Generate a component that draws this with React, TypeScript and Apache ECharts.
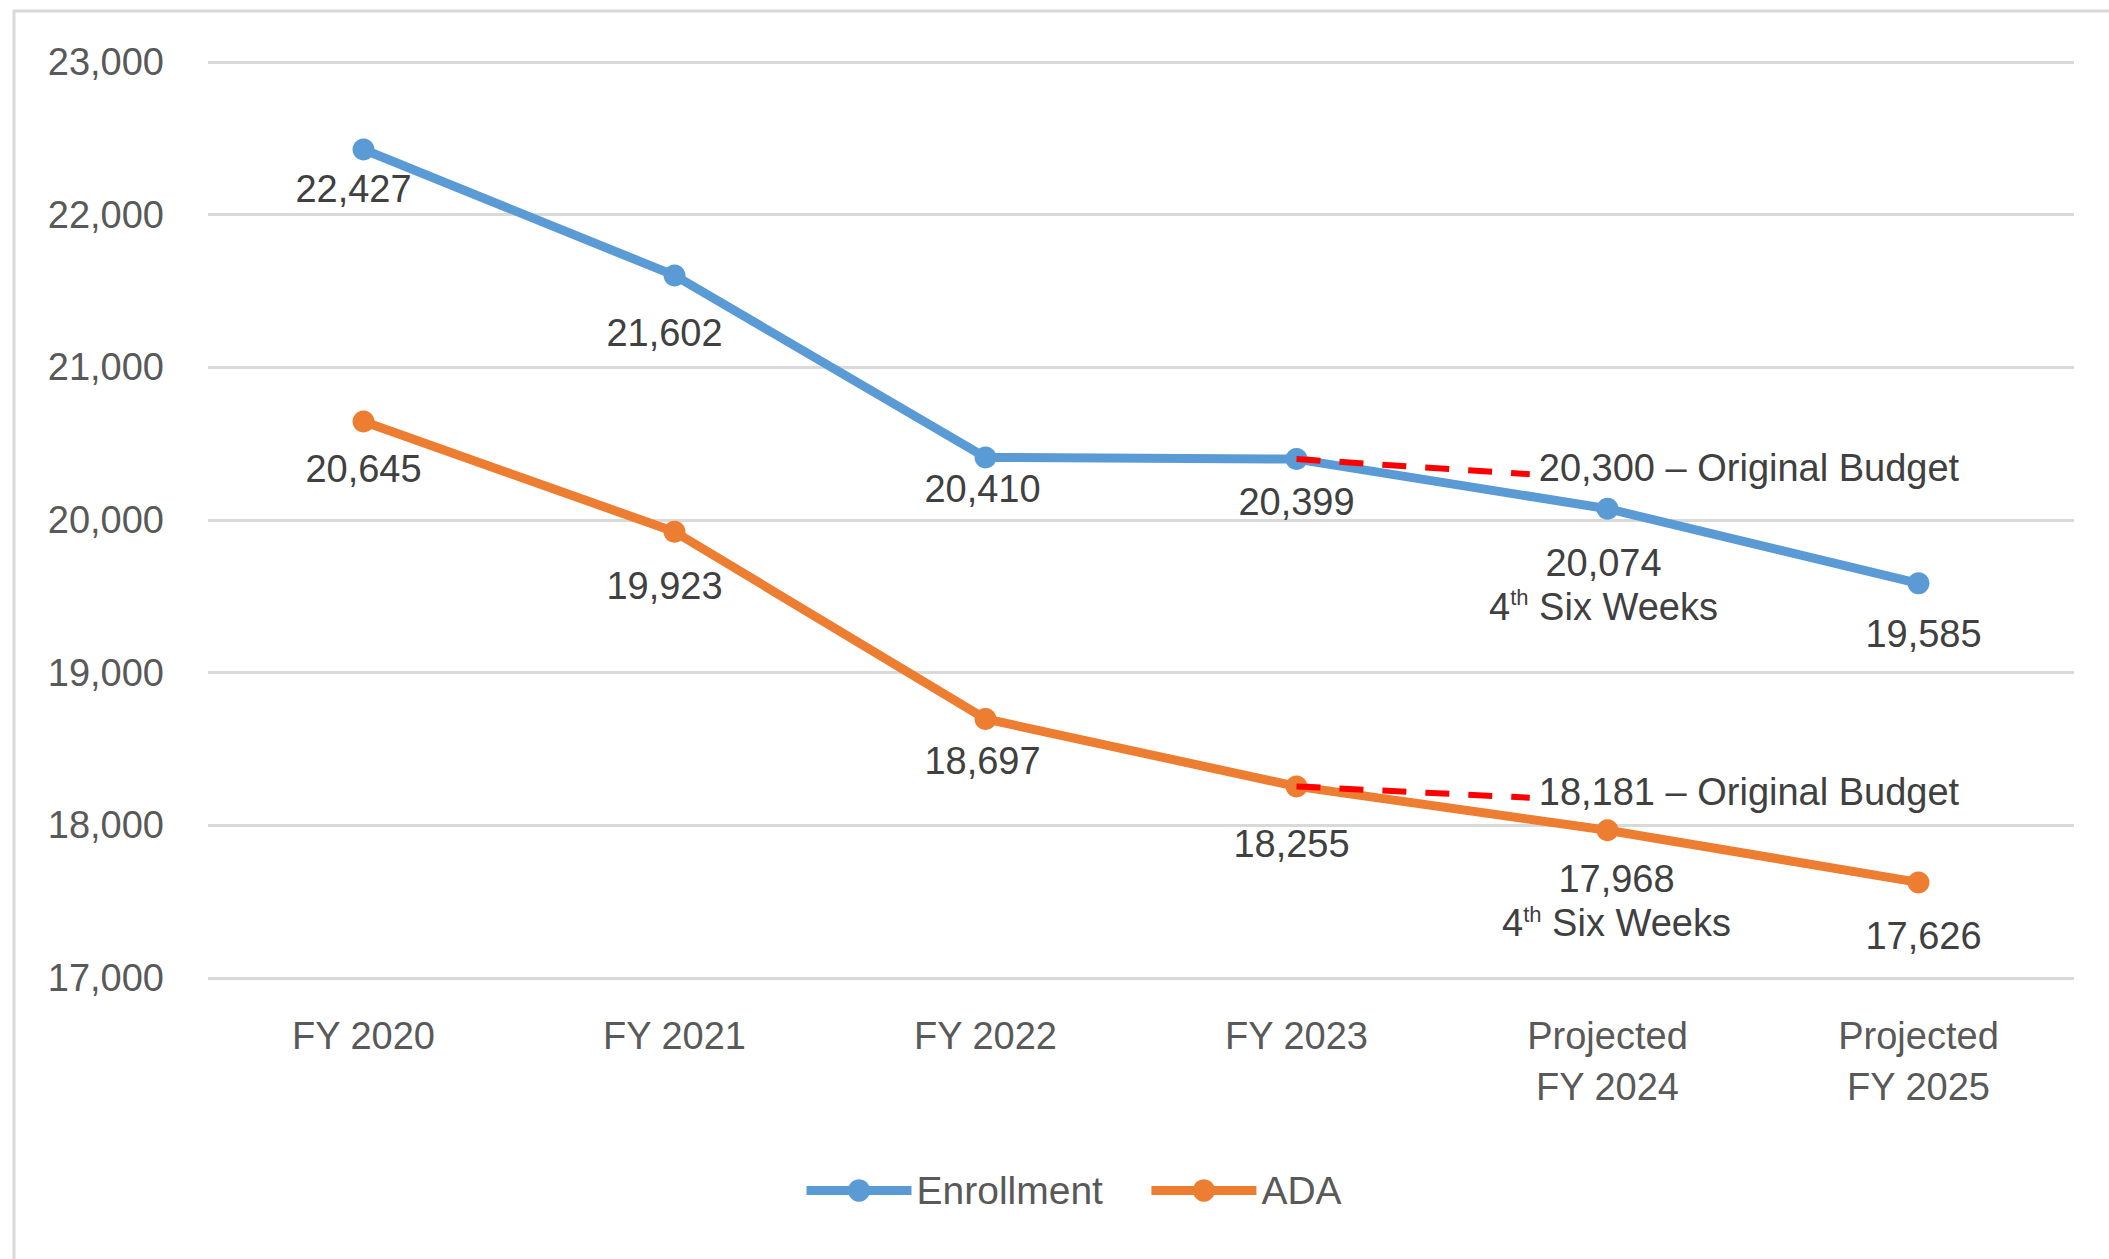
import React, { useEffect, useRef } from "react";
import * as echarts from "echarts";

const categories = ["FY 2020", "FY 2021", "FY 2022", "FY 2023", "Projected\nFY 2024", "Projected\nFY 2025"];
const enrollment = [22427, 21602, 20410, 20399, 20074, 19585];
const ada = [20645, 19923, 18697, 18255, 17968, 17626];
const enrollmentBudget = [[3, 20399], [3.75, 20300]];
const adaBudget = [[3, 18255], [3.75, 18181]];
const budgetLabels = ["20,300 – Original Budget", "18,181 – Original Budget"];
const noteIndex = 4;
const noteText = "Six Weeks";
const yTicks = { min: 17000, max: 23000, interval: 1000 };

// label placement (styling)
const enrollmentLabelOffsets = [[-10, 40], [-10, 58], [-3, 32], [0, 43], [-4, 76], [5, 51]];
const adaLabelOffsets = [[0, 47], [-10, 54], [-3, 42], [-5, 58], [9, 71], [5, 54]];

const FONT = "Liberation Sans";
const fmt = (v: number) => v.toLocaleString("en-US");

export default function App() {
  const ref = useRef<HTMLDivElement>(null);
  useEffect(() => {
    if (!ref.current) return;
    const chart = echarts.init(ref.current, null, { renderer: "svg" });
    const rich = {
      v: { fontSize: 38, fontFamily: FONT, color: "#404040", lineHeight: 44 },
      n: { fontSize: 38, fontFamily: FONT, color: "#404040", lineHeight: 44 },
      s: { fontSize: 22, fontFamily: FONT, color: "#404040", lineHeight: 22, verticalAlign: "top", padding: [2, 0, 0, 0] },
    };
    const mkData = (vals: number[], offs: number[][]) =>
      vals.map((v, i) => ({
        value: v,
        label: { offset: offs[i] },
      }));
    const labelFormatter = (p: any) =>
      p.dataIndex === noteIndex
        ? `{v|${fmt(p.value)}}\n{n|4}{s|th}{n| ${noteText}}`
        : `{v|${fmt(p.value)}}`;
    const baseLabel = {
      show: true,
      position: "inside",
      formatter: labelFormatter,
      rich,
      align: "center",
    };
    chart.setOption({
      animation: false,
      textStyle: { fontFamily: FONT },
      graphic: [
        {
          type: "rect",
          shape: { x: 14, y: 11, width: 2200, height: 1400 },
          style: { fill: "none", stroke: "#D9D9D9", lineWidth: 3 },
          silent: true,
        },
      ],
      grid: { left: 208, right: 35, top: 62, bottom: 281, containLabel: false },
      legend: {
        left: 797,
        top: 1166,
        itemWidth: 105,
        itemHeight: 28,
        itemGap: 44,
        lineStyle: { width: 9 },
        textStyle: { fontSize: 39, color: "#595959", fontFamily: FONT },
        data: ["Enrollment", "ADA"],
      },
      xAxis: [
        {
          type: "category",
          data: categories,
          boundaryGap: true,
          axisLine: { show: false },
          axisTick: { show: false },
          axisLabel: { fontSize: 38, color: "#595959", margin: 32, lineHeight: 51, fontFamily: FONT },
        },
        { type: "value", min: -0.5, max: 5.5, show: false },
      ],
      yAxis: {
        type: "value",
        min: yTicks.min,
        max: yTicks.max,
        interval: yTicks.interval,
        axisLine: { show: false },
        axisTick: { show: false },
        axisLabel: { fontSize: 38, color: "#595959", margin: 44, formatter: (v: number) => fmt(v), fontFamily: FONT },
        splitLine: { lineStyle: { color: "#D9D9D9", width: 3 } },
      },
      series: [
        {
          name: "Enrollment",
          type: "line",
          data: mkData(enrollment, enrollmentLabelOffsets),
          symbol: "circle",
          symbolSize: 22,
          lineStyle: { width: 9, color: "#5B9BD5" },
          itemStyle: { color: "#5B9BD5" },
          label: baseLabel,
          z: 3,
        },
        {
          name: "ADA",
          type: "line",
          data: mkData(ada, adaLabelOffsets),
          symbol: "circle",
          symbolSize: 22,
          lineStyle: { width: 9, color: "#ED7D31" },
          itemStyle: { color: "#ED7D31" },
          label: baseLabel,
          z: 3,
        },
        ...[enrollmentBudget, adaBudget].map((d, k) => ({
          name: "budget" + k,
          type: "line",
          xAxisIndex: 1,
          data: d,
          symbol: "none",
          silent: true,
          lineStyle: { width: 6, color: "#FF0000", type: [24, 19] },
          endLabel: {
            show: true,
            formatter: budgetLabels[k],
            fontSize: 38,
            color: "#404040",
            fontFamily: FONT,
            distance: 9,
            offset: [0, -6],
          },
          z: 4,
        })),
      ],
    });
    return () => chart.dispose();
  }, []);
  return <div ref={ref} style={{ position: "fixed", left: 0, top: 0, width: 2109, height: 1259, background: "#fff" }} />;
}
